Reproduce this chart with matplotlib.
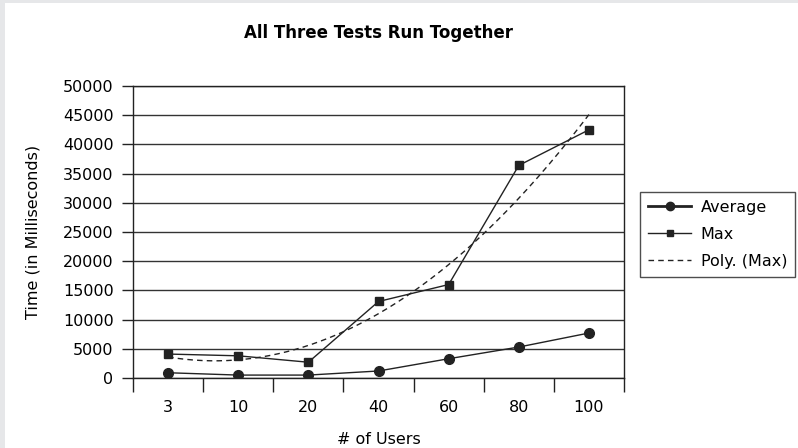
import numpy as np
import matplotlib
matplotlib.use('Agg')
import matplotlib.pyplot as plt
from matplotlib.patches import Rectangle

plt.rcParams['font.family'] = ['DejaVu Sans']

users = ['3', '10', '20', '40', '60', '80', '100']
avg_ms = [900, 500, 500, 1200, 3300, 5300, 7700]
max_ms = [4100, 3800, 2700, 13100, 16000, 36400, 42500]
y_ticks = [0, 5000, 10000, 15000, 20000, 25000, 30000, 35000, 40000, 45000, 50000]

W, H = 798, 448
fig = plt.figure(figsize=(W / 100, H / 100), dpi=100)
fig.patch.set_facecolor('#e6e7e9')
# white panel, gray strip only on the top and left edges
fig.patches.append(Rectangle((5 / W, 0), 1, 1 - 3 / H, transform=fig.transFigure,
                             facecolor='white', edgecolor='none', zorder=-10))

ax = fig.add_axes([133 / W, 1 - 378 / H, (624 - 133) / W, (378 - 86) / H])
ax.set_zorder(2)
ax.set_facecolor('white')

x = np.arange(1, len(users) + 1)

# second-order polynomial trendline of Max (as Excel's "Poly." trendline)
coef = np.polyfit(x, max_ms, 2)
xs = np.linspace(1, len(users), 200)
ax.plot(xs, np.polyval(coef, xs), color='#222222', lw=1, ls=(0, (4, 3)),
        label='Poly. (Max)', zorder=3)
ax.plot(x, avg_ms, color='#222222', lw=1, marker='o', ms=7, label='Average', zorder=4)
ax.plot(x, max_ms, color='#222222', lw=1, marker='s', ms=5.5, label='Max', zorder=4)

ax.set_xlim(0.5, len(users) + 0.5)
ax.set_ylim(0, 50000)
ax.set_yticks(y_ticks)
ax.set_yticklabels([str(v) for v in y_ticks], fontsize=11.5)
ax.yaxis.grid(True, color='#333333', lw=1)
ax.set_axisbelow(True)

ax.set_xticks(x)
ax.set_xticklabels(users, fontsize=11.5)
ax.tick_params(axis='x', which='major', length=0, pad=16)
ax.set_xticks(np.arange(0.5, len(users) + 1), minor=True)
ax.tick_params(axis='x', which='minor', length=10, width=1, color='#222222')
ax.tick_params(axis='y', length=8, width=1, color='#222222', pad=6)

for s in ax.spines.values():
    s.set_color('#222222')
    s.set_linewidth(1)

ax.set_xlabel('# of Users', fontsize=11.5, labelpad=12)
ax.set_ylabel('Time (in Milliseconds)', fontsize=11.5, labelpad=16)

fig.text(378 / W, 1 - 33 / H, 'All Three Tests Run Together', ha='center', va='center',
         fontsize=12, fontweight='bold')

handles, labels = ax.get_legend_handles_labels()
order = [1, 2, 0]
leg = fig.legend([handles[i] for i in order], [labels[i] for i in order],
                 loc='upper left', bbox_to_anchor=(640 / W, 1 - 192 / H),
                 fontsize=11.5, frameon=True, fancybox=False, edgecolor='#222222',
                 handlelength=2.7, borderpad=0.5, labelspacing=0.75, handletextpad=0.6,
                 borderaxespad=0)
leg.get_frame().set_linewidth(1)
for h in leg.legend_handles:
    if h.get_marker() == 'o':
        h.set_markersize(6)
        h.set_linewidth(2)
    elif h.get_marker() == 's':
        h.set_markersize(4)

fig.savefig('out.png', dpi=100, facecolor=fig.get_facecolor())
